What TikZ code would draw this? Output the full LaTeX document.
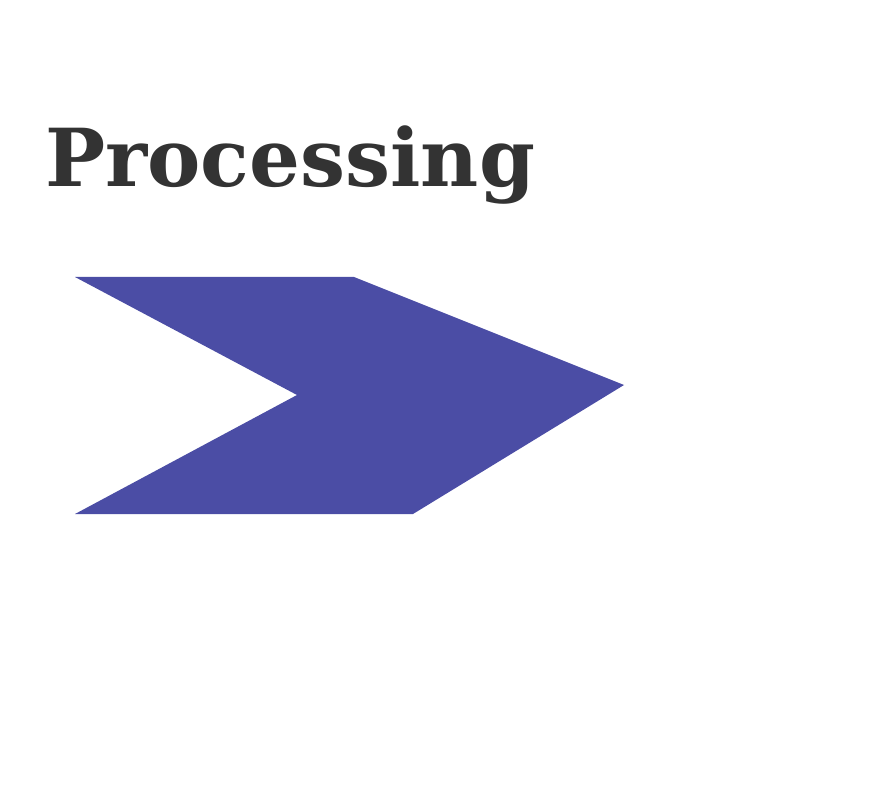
\documentclass[tikz,border=0pt]{standalone}
\usepackage{fontspec}
\newfontfamily\titlefont{DejaVu Serif}
\definecolor{chevronblue}{RGB}{75,77,165}
\definecolor{titlegray}{RGB}{51,51,51}
\tikzset{
  title/.style={font=\titlefont\bfseries\fontsize{80}{90}\selectfont, text=titlegray, inner sep=0pt, anchor=base west},
  chevron/.style={fill=chevronblue, draw=none}
}
\begin{document}
\begin{tikzpicture}[x=1pt,y=-1pt]
  \useasboundingbox (0,0) rectangle (883,791);
  \node[title] (heading) at (45,187) {Processing};
  % the chevron
  \fill[chevron] (75,277) -- (354,277) -- (624,385) -- (413,514) -- (75,514) -- (297,395) -- cycle;
\end{tikzpicture}
\end{document}
